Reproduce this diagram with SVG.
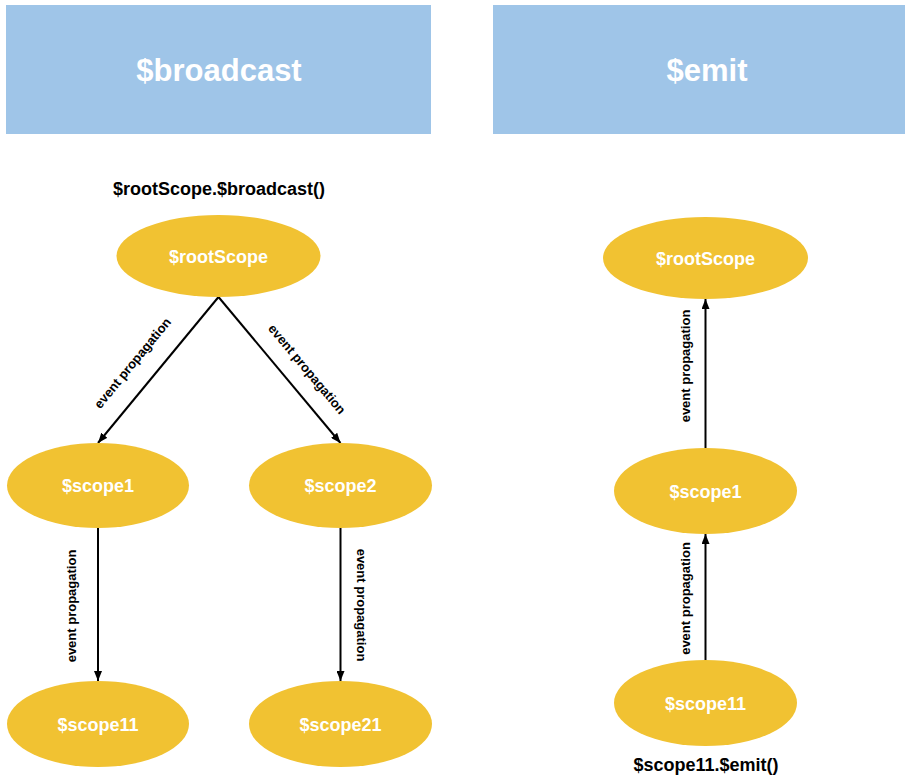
<svg xmlns="http://www.w3.org/2000/svg" width="905" height="776" viewBox="0 0 905 776">
  <style>
    .hdr { fill: #9fc5e8; }
    .hdrt { font-family: "Liberation Sans", Arial, sans-serif; font-weight: bold; font-size: 31px; fill: #ffffff; text-anchor: middle; }
    .node { fill: #f1c232; }
    .nodet { font-family: "Liberation Sans", Arial, sans-serif; font-weight: bold; font-size: 18px; fill: #ffffff; text-anchor: middle; }
    .cap { font-family: "Liberation Sans", Arial, sans-serif; font-weight: bold; font-size: 18px; fill: #000000; text-anchor: middle; }
    .edge { stroke: #000000; stroke-width: 2; fill: none; marker-end: url(#arr); }
    .lbl { font-family: "Liberation Sans", Arial, sans-serif; font-weight: bold; font-size: 13px; fill: #000000; text-anchor: middle; }
  </style>
  <defs>
    <marker id="arr" viewBox="0 0 10 8" refX="10" refY="4" markerWidth="10" markerHeight="8" markerUnits="userSpaceOnUse" orient="auto">
      <path d="M0,0 L10,4 L0,8 Z" fill="#000000"/>
    </marker>
  </defs>
  <rect width="905" height="776" fill="#ffffff"/>

  <g id="header-broadcast">
    <rect class="hdr" x="6" y="5" width="425" height="129"/>
    <text class="hdrt" x="219" y="81">$broadcast</text>
  </g>
  <g id="header-emit">
    <rect class="hdr" x="493" y="5" width="412" height="129"/>
    <text class="hdrt" x="707" y="81">$emit</text>
  </g>

  <g id="caption-broadcast">
    <text class="cap" x="219" y="195">$rootScope.$broadcast()</text>
  </g>
  <g id="caption-emit">
    <text class="cap" x="706" y="771">$scope11.$emit()</text>
  </g>

  <g id="connectors">
    <line class="edge" x1="218.5" y1="297" x2="98" y2="443"/>
    <line class="edge" x1="218.5" y1="297" x2="340.5" y2="443"/>
    <line class="edge" x1="98" y1="528" x2="98" y2="681"/>
    <line class="edge" x1="340.5" y1="528" x2="340.5" y2="681"/>
    <line class="edge" x1="705.5" y1="660" x2="705.5" y2="534"/>
    <line class="edge" x1="705.5" y1="448" x2="705.5" y2="299"/>
    <text class="lbl" transform="translate(132.5,363) rotate(-50.6)" y="4.5">event propagation</text>
    <text class="lbl" transform="translate(307,369) rotate(50.1)" y="4.5">event propagation</text>
    <text class="lbl" transform="translate(75.5,606) rotate(-90)">event propagation</text>
    <text class="lbl" transform="translate(356.5,605) rotate(90)">event propagation</text>
    <text class="lbl" transform="translate(690,366) rotate(-90)">event propagation</text>
    <text class="lbl" transform="translate(690,598.5) rotate(-90)">event propagation</text>
  </g>

  <g id="b-rootScope">
    <ellipse class="node" cx="218.5" cy="256" rx="102" ry="41"/>
    <text class="nodet" x="218.5" y="262.5">$rootScope</text>
  </g>
  <g id="b-scope1">
    <ellipse class="node" cx="98" cy="485.5" rx="91" ry="42.5"/>
    <text class="nodet" x="98" y="492">$scope1</text>
  </g>
  <g id="b-scope2">
    <ellipse class="node" cx="340.5" cy="485.5" rx="91.5" ry="42.5"/>
    <text class="nodet" x="340.5" y="492">$scope2</text>
  </g>
  <g id="b-scope11">
    <ellipse class="node" cx="98" cy="724" rx="91" ry="43"/>
    <text class="nodet" x="98" y="730.5">$scope11</text>
  </g>
  <g id="b-scope21">
    <ellipse class="node" cx="340.5" cy="724" rx="91.5" ry="43"/>
    <text class="nodet" x="340.5" y="730.5">$scope21</text>
  </g>

  <g id="e-rootScope">
    <ellipse class="node" cx="705.5" cy="258" rx="102.5" ry="41"/>
    <text class="nodet" x="705.5" y="264.5">$rootScope</text>
  </g>
  <g id="e-scope1">
    <ellipse class="node" cx="705.5" cy="491" rx="91.5" ry="43"/>
    <text class="nodet" x="705.5" y="497.5">$scope1</text>
  </g>
  <g id="e-scope11">
    <ellipse class="node" cx="705.5" cy="703" rx="91.5" ry="43"/>
    <text class="nodet" x="705.5" y="709.5">$scope11</text>
  </g>
</svg>
